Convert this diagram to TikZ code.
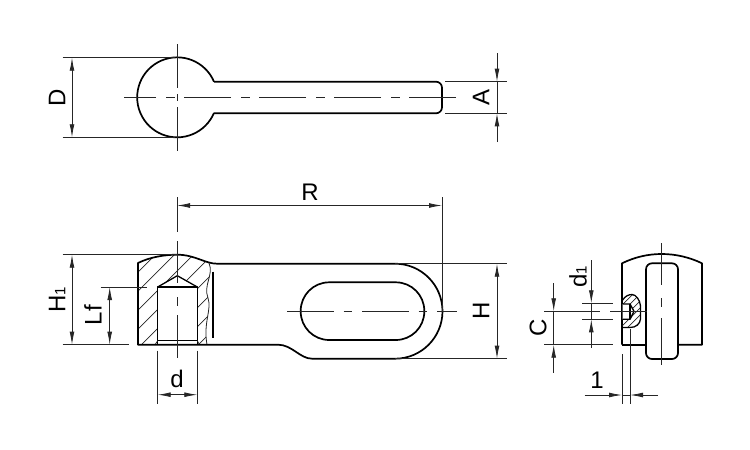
\documentclass[tikz,border=0pt]{standalone}
\usepackage{fontspec}
\setmainfont{Liberation Sans}
\usetikzlibrary{arrows.meta}
\tikzset{
  part/.style={line width=1.7pt,line join=round},
  thin line/.style={line width=0.8pt,black!85},
  center line/.style={line width=0.8pt,black!85,dash pattern=on 47pt off 9.5pt on 8.5pt off 10pt},
  dim/.style={thin line,{Latex[length=13pt,width=4.8pt]}-{Latex[length=13pt,width=4.8pt]}},
  dim in/.style={thin line,-{Latex[length=13pt,width=4.8pt]}},
  hatch/.style={line width=0.7pt,black!85},
  label/.style={font=\fontsize{24}{24}\selectfont,inner sep=0pt},
  side label/.style={label,rotate=90}
}
\begin{document}
\begin{tikzpicture}[x=1pt,y=-1pt]
        \useasboundingbox (0,0) rectangle (750,450);
        % top view
        \draw [part] (214,81.7) arc [start angle=-23,end angle=-337,radius=40];
        \draw [part,rounded corners=6] (214,81.7)--(442,81.7)--(442,113.3)--(214,113.3);
        \draw [center line] (456,97.5)--(124,97.5);
        \draw [thin line] (177,44)--(177,88);
        \draw [thin line] (177,94)--(177,101);
        \draw [thin line] (177,107)--(177,151);
        \draw [thin line] (62.7,57.7)--(175,57.7);
        \draw [thin line] (62.7,137.3)--(175,137.3);
        \draw [dim] (72,57.7)--(72,137.3);
        \node [side label] (labelD) at (57,97.5) {D};
        \draw [thin line] (445,81.7)--(507,81.7);
        \draw [thin line] (445,113.3)--(507,113.3);
        \draw [thin line] (497,81.7)--(497,113.3);
        \draw [dim in] (497,53)--(497,81.7);
        \draw [dim in] (497,142)--(497,113.3);
        \node [side label] (labelA) at (481,97.5) {A};
        % front view, section
        \begin{scope}
          \clip (138,344.7)--(138,263) .. controls (150,257) and (165,254.7) .. (177,254.7) .. controls (190,254.7) and (198,258) .. (209,263)
            .. controls (214,275) and (203,285) .. (208,298) .. controls (212,310) and (203,322) .. (207,344.7)--cycle;
          \foreach \s in {391,410,...,562}
            \draw [hatch] (130,\s-130)--(220,\s-220);
        \end{scope}
        \fill [white] (157.7,287)--(177.3,275.7)--(197.3,287)--(197.3,340.7)--(199,344.7)--(155.5,344.7)--(157.7,340.7)--cycle;
        \draw [part,line width=1.3pt] (157.7,344.7)--(157.7,287)--(197.3,287)--(197.3,344.7);
        \draw [part,line width=1.3pt] (157.7,287)--(177.3,275.7)--(197.3,287);
        \draw [part,line width=1.3pt] (157.7,340.7)--(197.3,340.7);
        \draw [thin line] (157.7,340.7)--(155,344.7);
        \draw [thin line] (197.3,340.7)--(199.5,344.7);
        \draw [thin line] (209,263) .. controls (214,275) and (203,285) .. (208,298) .. controls (212,310) and (203,322) .. (207,344.7);
        \draw [part] (213.3,271.7)--(213.3,337.7);
        \draw [part] (138,344.7)--(138,263) .. controls (150,257) and (165,254.7) .. (177,254.7) .. controls (195,254.7) and (205,263.7) .. (217,263.7)
            --(395,263.7) arc [start angle=-90,end angle=90,radius=47.5]
            --(312,358.7) .. controls (300,358.7) and (292,344.7) .. (278,344.7)--cycle;
        \draw [part,rounded corners=28.5] (300.7,282.3) rectangle (424.3,340);
        \draw [center line] (287,311.3)--(456.7,311.3);
        \draw [thin line] (177,197)--(177,231.5);
        \draw [thin line] (177,241)--(177,283);
        \draw [thin line] (177,297)--(177,306);
        \draw [thin line] (177,315)--(177,358);
        \draw [thin line] (442,197)--(442,311);
        \draw [dim] (177,205.5)--(442,205.5);
        \node [label] (labelR) at (310,192) {R};
        \draw [thin line] (395,263.7)--(506.7,263.7);
        \draw [thin line] (395,358.7)--(506.7,358.7);
        \draw [dim] (497,263.7)--(497,358.7);
        \node [side label] (labelH) at (481,311.3) {H};
        \draw [thin line] (62.7,254.7)--(177,254.7);
        \draw [thin line] (62.7,344.7)--(128.7,344.7);
        \draw [dim] (72,254.7)--(72,344.7);
        \node [side label] (labelHone) at (57,300) {H{\fontsize{15}{15}\selectfont 1}};
        \draw [thin line] (100.7,287)--(146.7,287);
        \draw [dim] (109.7,287)--(109.7,344.7);
        \node [side label] (labelLf) at (93,315) {Lf};
        \draw [thin line] (157.7,350.7)--(157.7,404);
        \draw [thin line] (197.3,350.7)--(197.3,404);
        \draw [dim] (157.7,394.7)--(197.3,394.7);
        \node [label] (labeld) at (177,379) {d};
        % side view
        \draw [part] (622,344.7)--(622,263.3) .. controls (635,257) and (648,254) .. (661.7,254) .. controls (675,254) and (689,257) .. (702,263.3)--(702,344.7)--(678,344.7);
        \draw [part] (622,344.7)--(646,344.7);
        \draw [part,rounded corners=6] (646,263.3) rectangle (678,359);
        \draw [thin line] (661.7,243)--(661.7,285);
        \draw [thin line] (661.7,298)--(661.7,307);
        \draw [thin line] (661.7,318)--(661.7,365);
        \begin{scope}
          \clip (622.7,300) .. controls (625,296) and (629,294.5) .. (632,294.5) .. controls (636,294.5) and (640,300) .. (640.5,306)--(640.5,319) .. controls (640,324) and (636,327.5) .. (630,327.5)--(622.7,327.5)--cycle;
          \foreach \s in {920,927,...,970}
            \draw [hatch] (615,\s-615)--(645,\s-645);
        \end{scope}
        \fill [white] (622.7,304)--(630,304)--(634,311.3)--(630,319.3)--(622.7,319.3)--cycle;
        \draw [part,line width=1.3pt] (622.7,304)--(630,304)--(634,311.3)--(630,319.3)--(622.7,319.3);
        \draw [part,line width=1.3pt] (630,304)--(630,319.3);
        \draw [part,line width=1.3pt] (622.7,300) .. controls (625,296) and (629,294.5) .. (632,294.5) .. controls (636,294.5) and (640,300) .. (640.5,306)--(640.5,319) .. controls (640,324) and (636,327.5) .. (630,327.5)--(622.7,327.5);
        \draw [thin line] (544,311.3)--(600,311.3);
        \draw [thin line] (610,311.3)--(646.7,311.3);
        \draw [thin line] (544,344.7)--(612.7,344.7);
        \draw [thin line] (553.7,311.3)--(553.7,344.7);
        \draw [dim in] (553.7,283.3)--(553.7,311.3);
        \draw [dim in] (553.7,372.7)--(553.7,344.7);
        \node [side label] (labelC) at (538,328) {C};
        \draw [thin line] (582.3,303.3)--(612.7,303.3);
        \draw [thin line] (582.3,319.3)--(612.7,319.3);
        \draw [thin line] (591.3,303.3)--(591.3,319.3);
        \draw [dim in] (591.3,260)--(591.3,303.3);
        \draw [dim in] (591.3,347.7)--(591.3,319.3);
        \node [side label] (labeldone) at (578,277) {d{\fontsize{15}{15}\selectfont 1}};
        \draw [thin line] (622,354)--(622,404);
        \draw [thin line] (630,329)--(630,404);
        \draw [thin line] (622,395)--(630,395);
        \draw [dim in] (584.7,395)--(622,395);
        \draw [dim in] (658,395)--(630,395);
        \node [label] (labelone) at (597,380) {1};
\end{tikzpicture}
\end{document}
